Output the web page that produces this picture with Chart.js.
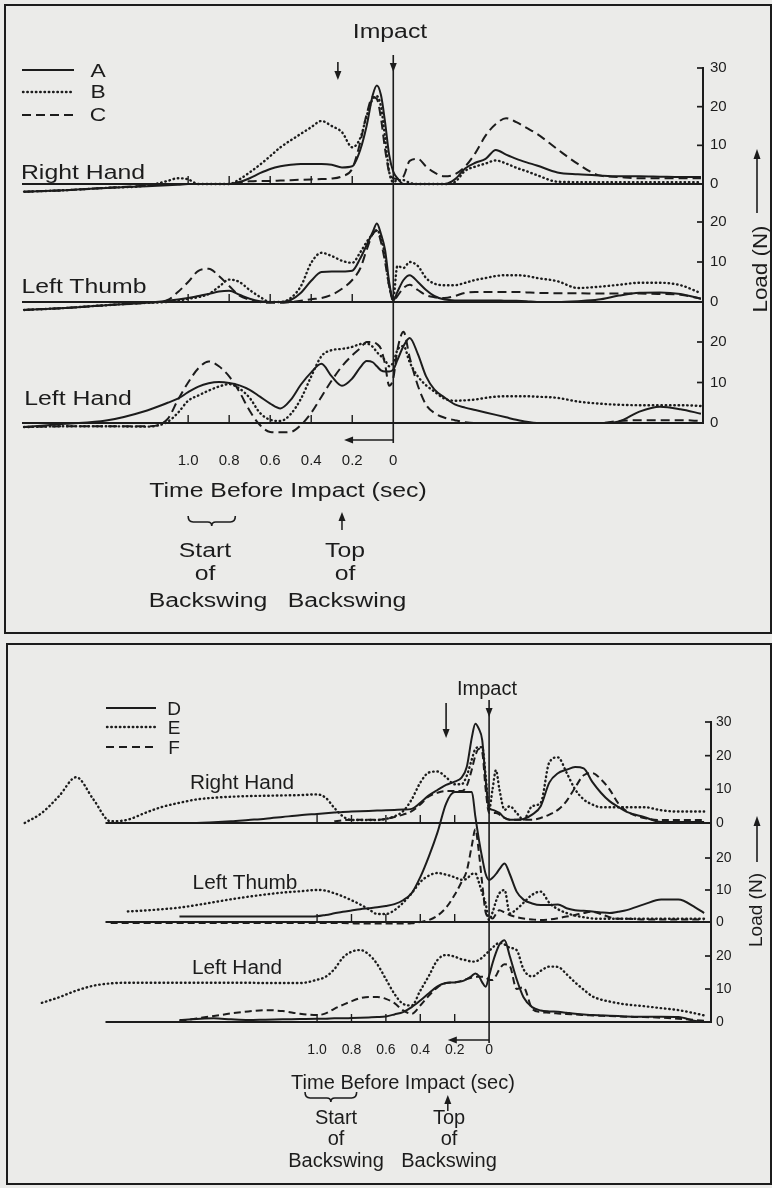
<!DOCTYPE html>
<html>
<head>
<meta charset="utf-8">
<script src="https://cdn.jsdelivr.net/npm/chart.js@4.4.1/dist/chart.umd.min.js"></script>
<style>
  html, body { margin: 0; padding: 0; }
  body { width: 772px; height: 1188px; background: #ebebe9; position: relative; overflow: hidden;
         font-family: "Liberation Sans", Arial, Helvetica, sans-serif; color: #1c1c1c; }
  .box { position: absolute; border: 2.5px solid #1c1c1c; box-sizing: border-box; }
  canvas { position: absolute; left: 0; }
  svg { position: absolute; left: 0; top: 0; }
  .note { position: absolute; white-space: nowrap; line-height: 1; }
</style>
</head>
<body>
<div class="box" style="left:4px;top:4px;width:768px;height:630px"></div>
<div class="box" style="left:6px;top:643px;width:766px;height:542px"></div>
<canvas id="swingTop" width="772" height="620" style="top:0"></canvas>
<canvas id="swingBottom" width="772" height="540" style="top:640px"></canvas>
<svg width="772" height="1188">
  <g stroke="#1c1c1c" fill="none">
    <line x1="22" y1="70" x2="74" y2="70" stroke-width="2.1"/>
    <line x1="23" y1="92" x2="74" y2="92" stroke-width="2.4" stroke-dasharray="0.5 3.8" stroke-linecap="round"/>
    <line x1="22" y1="115" x2="74" y2="115" stroke-width="2.1" stroke-dasharray="9 5"/>
    <line x1="106" y1="708" x2="156" y2="708" stroke-width="2.1"/>
    <line x1="107" y1="727" x2="156" y2="727" stroke-width="2.4" stroke-dasharray="0.5 3.8" stroke-linecap="round"/>
    <line x1="106" y1="747" x2="156" y2="747" stroke-width="2.1" stroke-dasharray="8 5"/>
    <line x1="757" y1="213" x2="757" y2="156" stroke-width="1.6"/>
    <line x1="757" y1="862" x2="757" y2="823" stroke-width="1.6"/>
  </g>
  <g fill="#1c1c1c">
    <polygon points="757,149 753.5,159 760.5,159"/>
    <polygon points="757,816 753.5,826 760.5,826"/>
  </g>
</svg>
<script>
// time before impact (s) and loads (N)
const timeTop = [1.8, 1.6, 1.4, 1.2,
  1.1, 1.05, 1.0,
  0.95, 0.9, 0.85, 0.8, 0.75, 0.7, 0.65, 0.6, 0.55, 0.5, 0.45, 0.4, 0.35, 0.3, 0.25, 0.2,
  0.16, 0.13, 0.1, 0.08, 0.06, 0.04, 0.02, 0,
  -0.02, -0.05, -0.08, -0.12, -0.16, -0.2,
  -0.25, -0.3, -0.35, -0.4, -0.45, -0.5, -0.55, -0.6, -0.65, -0.7,
  -0.8, -0.9, -1.0, -1.1, -1.2, -1.3, -1.4, -1.5];

const rightHandA = [-2, -1.6, -1.0, -0.6,
  -0.3, -0.2, 0,
  0, 0, 0, 0, 0.5, 1.5, 2.8, 3.9, 4.6, 5.0, 5.2, 5.2, 5.2, 5.0, 4.3, 4.6,
  9, 15, 23, 25.5, 23, 16, 7.5, 3.2,
  1.5, 0, 0, 0, 0, 0,
  0, 1.2, 4, 5.5, 6.5, 8.8, 7.6, 6.5, 5.6, 4.8,
  3.0, 2.5, 2.2, 2.0, 2.0, 1.9, 1.8, 1.8];
const rightHandB = [-2, -1.6, -1.0, -0.4,
  0.8, 1.5, 1.2,
  0, 0, 0, 0, 1.2, 3, 5, 7.2, 9.5, 11.3, 13, 14.7, 16.3, 15, 13.4, 9.5,
  12, 17.6, 22, 22.7, 20, 12, 3.2, 0.5,
  1, 1, 0.3, 0, 0, 0,
  0, 0.5, 3.4, 4.5, 5.3, 6.1, 5.3, 4.2, 3.3, 2.3,
  0.6, 0.5, 0.5, 0.5, 0.5, 0.5, 0.5, 0.5];
const rightHandC = [-2, -1.6, -1.0, -0.4,
  0, 0, 0,
  0, 0, 0, 0, 0.4, 0.7, 0.8, 0.8, 0.9, 1.0, 1.1, 1.2, 1.3, 1.4, 2, 4,
  11, 18, 22.5, 22, 17, 9, 3, 1.5,
  1.3, 2, 6, 6.5, 4.5, 3,
  2, 2.5, 4.5, 8, 12.5, 15.5, 17, 16, 14.5, 13,
  9, 5.2, 2.3, 1.8, 1.5, 1.5, 1.5, 1.5];

const leftThumbA = [-2, -1.5, -0.8, -0.2,
  0.3, 0.6, 1,
  1.5, 2.0, 2.6, 2.8, 1.8, 0.8, 0.2, 0, 0, 0.5, 2.3, 5.3, 7.5, 7.6, 7.6, 7.8,
  11, 14.2, 17.5, 19.6, 17, 13, 5, 0.3,
  2.5, 5.5, 6.7, 5, 3, 1.5,
  0.6, 0.4, 0.4, 0.4, 0.4, 0.4, 0.3, 0.3, 0.2, 0,
  0, 0.2, 0.6, 1.6, 2.3, 2.4, 2.0, 0.8];
const leftThumbB = [-2, -1.5, -0.8, -0.2,
  0, 0.3, 0.8,
  1.2, 2, 3.8, 5.6, 5, 3, 1.3, 0, 0, 1, 4, 9.8, 12.3, 11.5, 10.3, 9.8,
  12.5, 15, 17, 18, 16, 11.5, 4, 1,
  9, 8.5, 10, 9, 6, 4.6,
  4.2, 4.2, 4.8, 5.5, 6, 6.5, 6.7, 6.7, 6.5, 6,
  5.2, 3.5, 3.8, 4.3, 4.8, 4.8, 4.2, 2.2];
const leftThumbC = [-2, -1.5, -0.8, -0.2,
  0.5, 2.5, 5,
  7.8, 8.3, 6.5, 4, 1.6, 0.6, 0, -0.2, -0.2, 0, 0.3, 0.7, 1.0, 1.8, 3.3, 5.5,
  8.5, 13, 17, 17.8, 15, 10, 4, 0.3,
  1.5, 3.5, 4.3, 3, 1.7, 1.2,
  1, 1.5, 2.3, 2.5, 2.5, 2.5, 2.5, 2.5, 2.4, 2.3,
  2.2, 2.2, 2.1, 2.1, 2.1, 2.0, 1.8, 0.8];

const leftHandA = [-1, -0.2, 0.6, 3.1,
  5.0, 6, 7.6,
  9, 9.8, 10.1, 9.9, 9.3, 8.2, 6.5, 4.8, 3.6, 5.7, 9.5, 12.5, 14.6, 11.5, 9.2, 11,
  13.8, 15.3, 15, 14, 13, 12.7, 12.7, 13.2,
  15.5, 19, 21, 17, 11.5, 8.3,
  6.3, 4.6, 3.8, 3.2, 2.6, 2, 1.4, 0.8, 0.3, 0,
  0, 0, 0, 0.4, 2.8, 4, 3.4, 2.3];
const leftHandB = [-1, -0.8, -0.8, -0.9,
  0.3, 2.5, 5.5,
  6.8, 8, 9, 9.6, 8.5, 6.2, 2.5, 0.8, 0.5, 2.2, 6, 11.5, 16.5, 18, 18.3, 18.8,
  19.5, 19.6, 18.8, 17.5, 16.5, 15.5, 14, 15,
  18, 19, 15, 11.5, 9.3, 7.8,
  6, 5.5, 5.6, 5.8, 6.2, 6.5, 6.6, 6.6, 6.6, 6.5,
  6.2, 5.3, 4.8, 4.5, 4.4, 4.4, 4.4, 4.2];
const leftHandC = [-1, -0.8, -0.8, -0.8,
  1, 5.7, 10,
  13.5, 15.2, 14, 11.5, 7.7, 3, -0.5, -2.2, -2.3, -2.2, -0.5, 2.5, 6.5, 10.5, 14, 16.7,
  18.5, 20, 20, 19.5, 18.3, 14.5, 9.2, 11,
  18, 22.5, 16.2, 9.2, 4.5, 2.5,
  1.3, 0.7, 0.2, 0, 0, 0, 0, 0, 0, 0,
  0, 0, 0, 0.5, 0.7, 0.7, 0.7, 0.5];

const timeBottom = [2.7, 2.6, 2.5, 2.4, 2.3, 2.2, 2.1, 2.0, 1.9, 1.8,
  1.7, 1.6, 1.5, 1.4, 1.3, 1.2, 1.1, 1.0,
  0.95, 0.9, 0.85, 0.8, 0.75, 0.7, 0.65, 0.6, 0.55, 0.5, 0.45, 0.4, 0.35, 0.3, 0.25, 0.2,
  0.16, 0.13, 0.1, 0.08, 0.06, 0.04, 0.02, 0,
  -0.02, -0.04, -0.06, -0.09, -0.12, -0.16, -0.2,
  -0.25, -0.3, -0.35, -0.4, -0.45, -0.5, -0.55, -0.6, -0.65, -0.7, -0.75, -0.8,
  -0.9, -1.0, -1.1, -1.2, -1.25];

const rightHandD = [null, null, null, null, null, null, null, null, null, null,
  0, 0.2, 0.5, 0.9, 1.3, 1.8, 2.3, 2.7,
  2.9, 3.1, 3.3, 3.4, 3.5, 3.6, 3.7, 3.8, 3.9, 4, 4.2, 6, 8.2, 9.8, 11.3, 12.3,
  13.5, 16.6, 25.5, 29.5, 28, 24.6, 12.8, 4.5,
  3.9, 3.5, 3, 1.5, 1, 1, 1.2,
  2.5, 5, 12, 14.8, 15.8, 16.6, 16.2, 12.2, 9, 6.5, 4.8, 3.3,
  1.8, 0.3, 0.3, 0.3, 0.3];
const rightHandE = [0, 3, 8, 13.6, 7, 0.5, 1, 3, 4.8, 6,
  7, 7.5, 7.8, 8, 8.1, 8.2, 8.3, 8.5,
  7.5, 4.5, 2, 0.9, 0.9, 0.9, 0.9, 1.2, 2, 3.5, 7, 12, 15, 15.3, 13.6, 11.5,
  11.5, 14, 19, 22, 22.5, 22.5, 14, 4,
  10, 15.7, 10, 3.9, 5, 3, 1,
  5, 6, 18, 19.5, 15, 10, 7, 5.5, 4.7, 4.7, 4.7, 4.7,
  4.7, 3.8, 3.4, 3.4, 3.4];
const rightHandF = [null, null, null, null, null, null, null, null, null, null,
  null, null, null, null, null, null, null, null,
  null, 0.5, 0.8, 1, 1, 1, 1, 1.2, 1.8, 2.5, 3.5, 5.5, 7.9, 9, 9.5, 9.5,
  9.5, 11, 16, 20, 22, 21, 10, 3,
  3, 3, 2.5, 1.5, 1, 1, 1,
  1, 1.5, 2.5, 3.9, 6.5, 10.5, 14.2, 14.8, 13, 10, 5.9, 3.5,
  1.5, 0.9, 0.9, 0.9, 0.9];

const leftThumbD = [null, null, null, null, null, null, null, null, null, 1.7,
  1.7, 1.7, 1.7, 1.7, 1.7, 1.7, 1.7, 1.8,
  2.2, 2.7, 3.2, 3.6, 4, 4.3, 4.6, 5, 5.6, 6.8, 9, 14, 20.5, 28, 37, 40.6,
  40.6, 40.6, 40.6, 33, 26, 20, 15, 13.1,
  13.8, 15, 16.5, 18.3, 15, 9.5, 7,
  5.8, 5.3, 5.3, 5.5, 4.3, 3.7, 3.5, 3.3, 3, 2.8, 3.2, 3.7,
  5.5, 7, 7, 4.5, 2.8];
const leftThumbE = [null, null, null, null, null, null, 3.3, 3.6, 4.0, 4.5,
  5.3, 6.2, 7.1, 7.9, 8.6, 9.2, 9.6, 10,
  9.8, 9, 8, 6.8, 5.5, 4, 2.5, 2.5, 3.7, 6, 9, 12.5, 14.5, 15.3, 14.8, 14,
  13.2, 13.5, 15, 15.2, 12.5, 9, 5.8, 0.6,
  3, 6.5, 9, 10, 2.7, 4, 6,
  8.5, 9.5, 6, 4, 2.8, 2, 1.5, 1.1, 1, 1, 1, 1,
  1, 1, 1, 1, 1];
const leftThumbF = [null, null, null, null, null, -0.3, -0.3, -0.3, -0.3, -0.3,
  -0.3, -0.3, -0.3, -0.3, -0.3, -0.3, -0.3, -0.3,
  -0.3, -0.3, -0.3, -0.4, -0.5, -0.5, -0.5, -0.5, -0.5, -0.5, -0.4, 0, 0.6, 2, 4.5, 8.5,
  12.5, 16, 24, 29, 22, 12, 3, 1.5,
  1.1, 2.5, 3.7, 3, 2.2, 1.5, 1.1,
  0.8, 0.6, 0.8, 1.2, 1.7, 2.2, 2.8, 3.2, 2.5, 1.5, 1, 1,
  0.8, 0.8, 0.8, 0.8, 0.8];

const leftHandD = [null, null, null, null, null, null, null, null, null, 0.6,
  0.9, 1.1, 0.8, 0.6, 0.7, 0.8, 0.9, 1.0,
  1.0, 1.1, 1.1, 1.2, 1.3, 1.4, 1.5, 1.7, 2.3, 3, 4.5, 6.5, 8.7, 10.8, 11.8, 12,
  12.3, 13, 14, 14.7, 14, 12, 10.7, 14,
  17.8, 21, 23.5, 24.8, 20, 13, 7.5,
  4.5, 3.5, 3.2, 3.1, 2.8, 2.5, 2.3, 2.1, 2, 1.9, 1.8, 1.7,
  1.6, 1.6, 1.5, 0.3, 0];
const leftHandE = [null, 5.8, 7.5, 9.5, 11, 11.7, 11.9, 11.9, 11.9, 11.9,
  11.9, 11.9, 11.9, 11.9, 11.8, 11.8, 11.8, 12.8,
  13.7, 16, 19.5, 21.3, 21.8, 20.5, 17.5, 13, 8.5, 5.5, 5, 9.5, 14, 18.8, 20.3, 19.8,
  19, 18.7, 18.3, 18.3, 18.8, 19.5, 20.5, 21.5,
  22.5, 23.5, 24, 23.5, 22.5, 21.8, 16,
  13.8, 15.5, 16.8, 16.7, 14.5, 12, 9.8, 7.8, 6.8, 6.2, 5.7, 5.3,
  4.8, 4.2, 3.6, 2.6, 2];
const leftHandF = [null, null, null, null, null, null, null, null, null, 0.2,
  1.1, 1.8, 2.6, 3.2, 3.6, 3.3, 2.5, 2.1,
  2.6, 4, 5.2, 6.3, 7.2, 7.6, 7.6, 7, 5.7, 3.5, 2.5, 5, 8, 10.5, 11.8, 12,
  12.5, 13, 13.5, 13.7, 13.7, 13.7, 13.5, 12.8,
  12.7, 14, 16, 17.5, 17, 10, 10.5,
  4, 3, 2.8, 2.6, 2.4, 2.3, 2.1, 2, 1.9, 1.8, 1.7, 1.6,
  1.5, 1.3, 1.0, 0.6, 0.4];

const timeTicks = [1.0, 0.8, 0.6, 0.4, 0.2, 0];
const rightHandTicks = [0, 10, 20, 30];
const thumbTicks = [0, 10, 20];
const leftHandTicks = [0, 10, 20];

const ink = '#1c1c1c';
Chart.defaults.font.family = "'Liberation Sans', Arial, Helvetica, sans-serif";

const lineStyles = {
  solid: { borderWidth: 2, borderDash: [] },
  dotted: { borderWidth: 2.4, borderDash: [0.5, 3.8], borderCapStyle: 'round' },
  dashed: { borderWidth: 2, borderDash: [9, 5] },
  dashedSmall: { borderWidth: 2, borderDash: [7, 4] }
};

function seg(ctx, x1, y1, x2, y2, w) {
  ctx.lineWidth = w;
  ctx.beginPath(); ctx.moveTo(x1, y1); ctx.lineTo(x2, y2); ctx.stroke();
}
// filled arrow head with its tip at (x, y), pointing along (dx, dy)
function head(ctx, x, y, dx, dy) {
  const bx = x - dx * 9, by = y - dy * 9;
  ctx.beginPath();
  ctx.moveTo(x, y);
  ctx.lineTo(bx - dy * 3.5, by + dx * 3.5);
  ctx.lineTo(bx + dy * 3.5, by - dx * 3.5);
  ctx.closePath(); ctx.fill();
}

// baselines, small time ticks, impact line, arrows and the backswing brace
const swingMarks = {
  id: 'swingMarks',
  afterDatasetsDraw(chart, args, o) {
    const { ctx, chartArea: a, scales } = chart;
    const x = scales.x;
    ctx.save();
    ctx.strokeStyle = ink; ctx.fillStyle = ink; ctx.setLineDash([]); ctx.lineCap = 'butt';
    const xFrom = x.getPixelForValue(o.baseFrom);
    ['rh', 'lt', 'lh'].forEach(id => {
      const ax = scales[id];
      const y0 = ax.getPixelForValue(0);
      seg(ctx, xFrom, y0, a.right, y0, 1.8);
      timeTicks.filter(t => t > 0).forEach(t => {
        const px = x.getPixelForValue(t);
        seg(ctx, px, y0, px, y0 - 8, 1.4);
      });
      ax.ticks.forEach(tk => {
        if (tk.value) {
          const py = ax.getPixelForValue(tk.value);
          seg(ctx, a.right - 6, py, a.right, py, 1.7);
        }
      });
    });
    const x0 = x.getPixelForValue(0);
    seg(ctx, x0, a.top + o.impactTop, x0, a.bottom + o.drop + 3, 1.6);
    head(ctx, x0, a.top + o.impactHead, 0, 1);
    const xt = x.getPixelForValue(o.topArrow);
    seg(ctx, xt, a.top + o.topArrowY[0], xt, a.top + o.topArrowY[1] - 6, 1.6);
    head(ctx, xt, a.top + o.topArrowY[1], 0, 1);
    const xb = x.getPixelForValue(o.backArrow);
    seg(ctx, x0, a.bottom + o.drop, xb + 6, a.bottom + o.drop, 1.5);
    head(ctx, xb, a.bottom + o.drop, -1, 0);
    // start of backswing brace
    const b1 = x.getPixelForValue(o.brace[0]), b2 = x.getPixelForValue(o.brace[1]);
    const by = a.bottom + o.braceY, bm = (b1 + b2) / 2;
    ctx.lineWidth = 1.6;
    ctx.beginPath();
    ctx.moveTo(b1, by - 6);
    ctx.quadraticCurveTo(b1, by, b1 + 5, by);
    ctx.lineTo(bm - 4, by);
    ctx.quadraticCurveTo(bm, by, bm, by + 4);
    ctx.quadraticCurveTo(bm, by, bm + 4, by);
    ctx.lineTo(b2 - 5, by);
    ctx.quadraticCurveTo(b2, by, b2, by - 6);
    ctx.stroke();
    // top of backswing arrow
    const xu = x.getPixelForValue(o.upArrow);
    seg(ctx, xu, a.bottom + o.upArrowY[0], xu, a.bottom + o.upArrowY[1] + 6, 1.5);
    head(ctx, xu, a.bottom + o.upArrowY[1], 0, -1);
    ctx.restore();
  }
};

function buildPanel(canvasId, cfg) {
  const datasets = cfg.series.map(([label, values, axis, style]) => ({
    label,
    yAxisID: axis,
    data: cfg.times.map((t, i) => ({ x: t, y: values[i] })),
    borderColor: ink,
    pointRadius: 0,
    clip: false,
    cubicInterpolationMode: 'monotone',
    ...lineStyles[style]
  }));
  const yAxis = (range, ticks) => ({
    type: 'linear', position: 'right', stack: 'load', stackWeight: range[2],
    min: range[0], max: range[1],
    afterBuildTicks: ax => { ax.ticks = ticks.map(v => ({ value: v })); },
    afterFit: ax => { ax.width = 45; },
    grid: { display: false, drawTicks: false },
    border: { display: true, color: ink, width: 2 },
    ticks: { color: ink, padding: cfg.yPad, font: { size: cfg.ySize } }
  });
  return new Chart(document.getElementById(canvasId), {
    type: 'line',
    data: { datasets },
    options: {
      responsive: false,
      animation: false,
      devicePixelRatio: 1,
      layout: { padding: cfg.padding },
      plugins: { legend: { display: false }, tooltip: { enabled: false }, swingMarks: cfg.marks },
      scales: {
        x: {
          type: 'linear', reverse: true, min: cfg.xRange[0], max: cfg.xRange[1],
          afterBuildTicks: ax => { ax.ticks = timeTicks.map(v => ({ value: v })); },
          afterFit: ax => { ax.height = 50; },
          grid: { display: false, drawTicks: false },
          border: { display: false },
          ticks: {
            color: ink, padding: cfg.xPad, autoSkip: false, maxRotation: 0,
            font: { size: cfg.xSize },
            callback: v => (v === 0 ? '0' : v.toFixed(1))
          }
        },
        rh: yAxis(cfg.rh, rightHandTicks),
        lt: yAxis(cfg.lt, thumbTicks),
        lh: yAxis(cfg.lh, leftHandTicks)
      }
    },
    plugins: [swingMarks]
  });
}

buildPanel('swingTop', {
  times: timeTop,
  series: [
    ['A', rightHandA, 'rh', 'solid'], ['B', rightHandB, 'rh', 'dotted'], ['C', rightHandC, 'rh', 'dashed'],
    ['A', leftThumbA, 'lt', 'solid'], ['B', leftThumbB, 'lt', 'dotted'], ['C', leftThumbC, 'lt', 'dashed'],
    ['A', leftHandA, 'lh', 'solid'], ['B', leftHandB, 'lh', 'dotted'], ['C', leftHandC, 'lh', 'dashed']
  ],
  xRange: [-1.51, 1.81],
  rh: [-2.84, 30, 127], lt: [-1.25, 26.75, 112], lh: [0, 28.64, 116],
  padding: { left: 22, top: 68, right: 24, bottom: 147 },
  xPad: 29, xSize: 15, yPad: 7, ySize: 15,
  marks: { baseFrom: 1.81, impactTop: -13, impactHead: 4, topArrow: 0.27, topArrowY: [-6, 12],
           backArrow: 0.24, drop: 17, brace: [1.0, 0.77], braceY: 99, upArrow: 0.25, upArrowY: [107, 89] }
});

buildPanel('swingBottom', {
  times: timeBottom,
  series: [
    ['D', rightHandD, 'rh', 'solid'], ['E', rightHandE, 'rh', 'dotted'], ['F', rightHandF, 'rh', 'dashedSmall'],
    ['D', leftThumbD, 'lt', 'solid'], ['E', leftThumbE, 'lt', 'dotted'], ['F', leftThumbF, 'lt', 'dashedSmall'],
    ['D', leftHandD, 'lh', 'solid'], ['E', leftHandE, 'lh', 'dotted'], ['F', leftHandF, 'lh', 'dashedSmall']
  ],
  xRange: [-1.29, 2.727],
  rh: [-3.56, 30, 113], lt: [-4.69, 27.19, 102], lh: [0, 25.76, 85],
  padding: { left: 20, top: 82, right: 16, bottom: 108 },
  xPad: 20, xSize: 14, yPad: 5, ySize: 14,
  marks: { baseFrom: 2.23, impactTop: -22, impactHead: -5, topArrow: 0.25, topArrowY: [-19, 16],
           backArrow: 0.24, drop: 18, brace: [1.07, 0.77], braceY: 76, upArrow: 0.24, upArrowY: [89, 73] }
});

// text: [text, centre x, centre y, font size, horizontal stretch, rotated]
const notes = [
  ['Impact', 390, 31, 20, 1.24], ['A', 98, 70, 19, 1.2], ['B', 98, 91, 19, 1.2], ['C', 98, 114, 19, 1.2],
  ['Right Hand', 83, 172, 20, 1.24], ['Left Thumb', 84, 286, 20, 1.24], ['Left Hand', 78, 398, 20, 1.24],
  ['Load (N)', 760, 269, 20, 1.12, true],
  ['Time Before Impact (sec)', 288, 490, 20, 1.24],
  ['Start', 205, 550, 20, 1.24], ['of', 205, 573, 20, 1.24], ['Backswing', 208, 600, 20, 1.24],
  ['Top', 345, 550, 20, 1.24], ['of', 345, 573, 20, 1.24], ['Backswing', 347, 600, 20, 1.24],
  ['Impact', 487, 688, 20, 1], ['D', 174, 708, 19, 1], ['E', 174, 727, 19, 1], ['F', 174, 747, 19, 1],
  ['Right Hand', 242, 782, 20, 1.04], ['Left Thumb', 245, 882, 20, 1.04], ['Left Hand', 237, 967, 20, 1.04],
  ['Load (N)', 755, 910, 19, 1, true],
  ['Time Before Impact (sec)', 403, 1082, 20, 1],
  ['Start', 336, 1117, 20, 1], ['of', 336, 1138, 20, 1], ['Backswing', 336, 1160, 20, 1],
  ['Top', 449, 1117, 20, 1], ['of', 449, 1138, 20, 1], ['Backswing', 449, 1160, 20, 1]
];
notes.forEach(([text, cx, cy, size, stretch, turned]) => {
  const el = document.createElement('div');
  el.className = 'note';
  el.textContent = text;
  el.style.left = cx + 'px';
  el.style.top = cy + 'px';
  el.style.fontSize = size + 'px';
  el.style.transform = 'translate(-50%, -50%)' + (turned ? ' rotate(-90deg)' : '') + ' scaleX(' + stretch + ')';
  document.body.appendChild(el);
});
</script>
</body>
</html>
